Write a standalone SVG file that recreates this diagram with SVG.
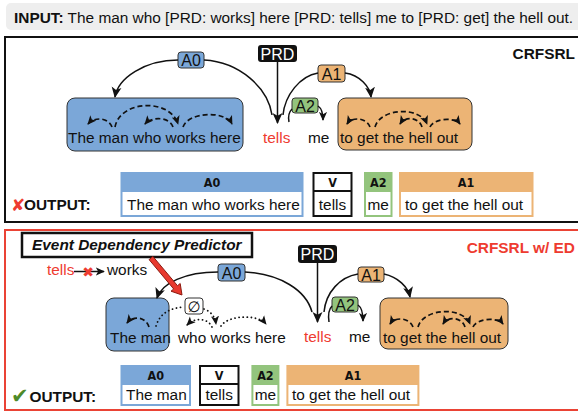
<svg xmlns="http://www.w3.org/2000/svg" width="578" height="412" viewBox="0 0 578 412">
<defs>
<style>
text{font-family:"Liberation Sans",Arial,sans-serif;font-size:15.4px;fill:#111}
.bd{font-weight:bold}
.red{fill:#EE3B30}
.wh{fill:#fff}
.mid{text-anchor:middle}
.end{text-anchor:end}
.hdr{font-family:"Liberation Sans Narrow","DejaVu Sans Condensed","Liberation Sans",sans-serif;font-weight:bold;font-size:12.5px;text-anchor:middle}
.tg{font-size:16px;text-anchor:middle}
.arc{fill:none;stroke:#111;stroke-width:1.5}
.dash{fill:none;stroke:#111;stroke-width:1.7;stroke-dasharray:5 3}
.dot{fill:none;stroke:#111;stroke-width:1.8;stroke-dasharray:0.1 4;stroke-linecap:round}
.blue{fill:#7BA7D8}
.orange{fill:#ECB475}
.green{fill:#93C47D}
.grp{stroke:#333;stroke-width:1}
.tag{stroke:#333;stroke-width:1}
</style>
<marker id="ah" markerUnits="userSpaceOnUse" markerWidth="11" markerHeight="11" viewBox="0 0 10 10" refX="9" refY="5" orient="auto"><path d="M0,0.5 L10,5 L0,9.5 L2.5,5 z" fill="#111"/></marker>
<marker id="sh" markerUnits="userSpaceOnUse" markerWidth="9" markerHeight="9" viewBox="0 0 10 10" refX="9" refY="5" orient="auto"><path d="M0,0.5 L10,5 L0,9.5 L2.5,5 z" fill="#111"/></marker>
</defs>

<!-- input bar -->
<g id="input">
<rect x="6" y="3" width="580" height="27" rx="5" fill="#EEEEEE"/>
<text x="14" y="23"><tspan class="bd">INPUT:</tspan> The man who [PRD: works] here [PRD: tells] me to [PRD: get] the hell out.</text>
</g>

<!-- panel frames -->
<g id="panel1">
<rect x="5" y="37" width="590" height="185" fill="none" stroke="#111" stroke-width="2"/>
<text class="bd end" x="575" y="59">CRFSRL</text>
</g>
<g id="panel2">
<rect x="5" y="230" width="590" height="180" fill="none" stroke="#EA4335" stroke-width="2"/>
<text class="bd end red" x="575" y="253">CRFSRL w/ ED</text>
</g>

<!-- ===== panel 1 nodes ===== -->
<g id="p1-a0group">
<rect class="blue grp" x="67" y="98" width="176" height="53" rx="8"/>
<text x="68" y="143">The man who works here</text>
</g>
<g id="p1-tells"><text class="red" x="263" y="143">tells</text></g>
<g id="p1-me"><text x="308" y="143">me</text></g>
<g id="p1-a1group">
<rect class="orange grp" x="338" y="98" width="134" height="52" rx="8"/>
<text x="340" y="143">to get the hell out</text>
</g>
<g id="p1-prd">
<rect x="258" y="45" width="39" height="17" rx="3" fill="#111"/>
<text class="wh tg" x="277.5" y="59.5">PRD</text>
</g>
<g id="p1-A0">
<rect class="blue tag" x="178" y="52" width="26" height="16" rx="3"/>
<text class="tg" x="191" y="66">A0</text>
</g>
<g id="p1-A1">
<rect class="orange tag" x="318" y="65" width="27" height="17" rx="3"/>
<text class="tg" x="331.5" y="79.5">A1</text>
</g>
<g id="p1-A2">
<rect class="green tag" x="292" y="98" width="26" height="15" rx="3"/>
<text class="tg" x="305" y="111.5">A2</text>
</g>

<!-- ===== panel 2 nodes ===== -->
<g id="edp">
<rect x="22" y="233" width="230" height="24" fill="#fff" stroke="#111" stroke-width="2.5"/>
<text class="bd" x="32" y="250" font-style="italic">Event Dependency Predictor</text>
</g>
<g id="edp-rel">
<text class="red" x="47" y="275">tells</text>
<text x="107" y="275">works</text>
</g>
<g id="p2-a0group">
<rect class="blue grp" x="106" y="298" width="63" height="53" rx="8"/>
<text x="110" y="343">The man</text>
</g>
<g id="p2-rest"><text x="178" y="343">who works here</text></g>
<g id="p2-null">
<rect x="185" y="298" width="18" height="16" rx="3" fill="#fff" stroke="#333" stroke-width="1"/>
<text class="mid" x="194" y="312" style="font-family:'DejaVu Sans',sans-serif;font-size:15px">∅</text>
</g>
<g id="p2-tells"><text class="red" x="304" y="342">tells</text></g>
<g id="p2-me"><text x="349" y="342">me</text></g>
<g id="p2-a1group">
<rect class="orange grp" x="380" y="298" width="128" height="51" rx="8"/>
<text x="383" y="343">to get the hell out</text>
</g>
<g id="p2-prd">
<rect x="298" y="245" width="39" height="18" rx="3" fill="#111"/>
<text class="wh tg" x="317.5" y="260">PRD</text>
</g>
<g id="p2-A0">
<rect class="blue tag" x="218" y="264" width="27" height="17" rx="3"/>
<text class="tg" x="231.5" y="278.5">A0</text>
</g>
<g id="p2-A1">
<rect class="orange tag" x="358" y="267" width="26" height="15" rx="3"/>
<text class="tg" x="371" y="280.5">A1</text>
</g>
<g id="p2-A2">
<rect class="green tag" x="332" y="297" width="26" height="15" rx="3"/>
<text class="tg" x="345" y="310.5">A2</text>
</g>

<!-- ===== connectors ===== -->
<g id="connectors">
<!-- panel 1 -->
<path class="arc" d="M178,60 C145,60 118,78 115,97" marker-end="url(#ah)"/>
<path class="arc" d="M204,60 C240,62 268,88 272,115"/>
<path class="arc" d="M277.5,62 L277.5,123" marker-end="url(#ah)"/>
<path class="arc" d="M318,73 C300,76 285,95 283,115"/>
<path class="arc" d="M345,73 C360,75 370,87 371,97" marker-end="url(#ah)"/>
<path class="arc" d="M292,109 C289,112 288,117 289,122"/>
<path class="arc" d="M318,106 C321,108 323,113 323,120" marker-end="url(#sh)"/>
<path class="dash" d="M112,127 C109,118 95,116 88,124" marker-end="url(#sh)"/>
<path class="dash" d="M115,127 C120,100 170,98 178,124" marker-end="url(#sh)"/>
<path class="dash" d="M173,127 C170,117 152,116 145,124" marker-end="url(#sh)"/>
<path class="dash" d="M183,127 C188,112 225,110 232,124" marker-end="url(#sh)"/>
<path class="dash" d="M370,127 C367,118 352,116 347,124" marker-end="url(#sh)"/>
<path class="dash" d="M375,127 C380,108 420,106 427,124" marker-end="url(#sh)"/>
<path class="dash" d="M422,127 C419,117 405,116 400,124" marker-end="url(#sh)"/>
<path class="dash" d="M430,127 C434,118 455,117 460,124" marker-end="url(#sh)"/>
<!-- panel 2 -->
<path class="arc" d="M74,271.5 L104,271.5" marker-end="url(#sh)"/>
<text class="red mid" x="88" y="277" style="font-family:'DejaVu Sans',sans-serif;font-size:14px;font-weight:bold">✖</text>
<path class="arc" d="M218,272 C185,272 162,283 157,298" marker-end="url(#ah)"/>
<path class="arc" d="M245,272 C280,274 306,290 312,312"/>
<path class="arc" d="M317.5,263 L317.5,322" marker-end="url(#ah)"/>
<path class="arc" d="M358,274 C340,277 326,292 324,312"/>
<path class="arc" d="M384,274 C398,277 408,287 410,297" marker-end="url(#ah)"/>
<path class="arc" d="M332,306 C329,309 328,315 329,322"/>
<path class="arc" d="M358,305 C361,307 363,313 363,321" marker-end="url(#sh)"/>
<path class="dash" d="M149,327 C146,317 133,315 127,323" marker-end="url(#sh)"/>
<path class="dot" d="M156,326 C160,313 170,308 184,307"/>
<path class="dot" d="M204,309 C210,311 215,316 216,324" marker-end="url(#sh)"/>
<path class="dot" d="M212,327 C208,318 195,317 187,325" marker-end="url(#sh)"/>
<path class="dot" d="M221,326 C228,315 258,314 266,324" marker-end="url(#sh)"/>
<path class="dash" d="M370,127 C367,118 352,116 347,124" marker-end="url(#sh)" transform="translate(43,200)"/>
<path class="dash" d="M375,127 C380,108 420,106 427,124" marker-end="url(#sh)" transform="translate(43,200)"/>
<path class="dash" d="M422,127 C419,117 405,116 400,124" marker-end="url(#sh)" transform="translate(43,200)"/>
<path class="dash" d="M430,127 C434,118 455,117 460,124" marker-end="url(#sh)" transform="translate(43,200)"/>
<!-- red EDP arrow -->
<polygon points="149.1,259.6 173.7,289 171,291.2 182,295 180.2,283.5 177.5,285.7 152.9,256.4" fill="#E8392E" stroke="#8B1A10" stroke-width="1" stroke-linejoin="miter"/>
</g>

<!-- ===== outputs ===== -->
<g id="out1">
<text x="11" y="211" class="red" style="font-family:'DejaVu Sans',sans-serif;font-size:17px;font-weight:bold">✘</text>
<text class="bd" x="24" y="210">OUTPUT:</text>
</g>
<g id="out1-A0">
<rect class="blue" x="120.5" y="172" width="183" height="45"/>
<rect fill="#fff" x="122.5" y="192" width="179" height="23"/>
<text class="hdr" x="212" y="187">A0</text>
<text x="127" y="209.5">The man who works here</text>
</g>
<g id="out1-V">
<rect fill="#111" x="312.5" y="172" width="40" height="45"/>
<rect fill="#fff" x="314.5" y="174" width="36" height="16"/>
<rect fill="#fff" x="314.5" y="192" width="36" height="23"/>
<text class="hdr" x="332.5" y="187">V</text>
<text class="mid" x="332.5" y="209.5">tells</text>
</g>
<g id="out1-A2">
<rect class="green" x="364" y="172" width="28.5" height="45"/>
<rect fill="#fff" x="366" y="192" width="24.5" height="23"/>
<text class="hdr" x="378.2" y="187">A2</text>
<text class="mid" x="378.2" y="209.5">me</text>
</g>
<g id="out1-A1">
<rect class="orange" x="399" y="172" width="134.5" height="45"/>
<rect fill="#fff" x="401" y="192" width="130.5" height="23"/>
<text class="hdr" x="466" y="187">A1</text>
<text x="405" y="209.5">to get the hell out</text>
</g>

<g id="out2">
<text x="11" y="403" style="font-family:'DejaVu Sans',sans-serif;font-size:21px;fill:#4E8A2A">✔</text>
<text class="bd" x="29.5" y="402">OUTPUT:</text>
</g>
<g id="out2-A0">
<rect class="blue" x="120.5" y="365" width="70.5" height="41"/>
<rect fill="#fff" x="122.5" y="385" width="66.5" height="19"/>
<text class="hdr" x="155.7" y="380">A0</text>
<text x="126" y="400">The man</text>
</g>
<g id="out2-V">
<rect fill="#111" x="199" y="365" width="40.5" height="41"/>
<rect fill="#fff" x="201" y="367" width="36.5" height="16"/>
<rect fill="#fff" x="201" y="385" width="36.5" height="19"/>
<text class="hdr" x="219.2" y="380">V</text>
<text class="mid" x="219.2" y="400">tells</text>
</g>
<g id="out2-A2">
<rect class="green" x="251.4" y="365" width="28" height="41"/>
<rect fill="#fff" x="253.4" y="385" width="24" height="19"/>
<text class="hdr" x="265.4" y="380">A2</text>
<text class="mid" x="265.4" y="400">me</text>
</g>
<g id="out2-A1">
<rect class="orange" x="286.4" y="365" width="133" height="41"/>
<rect fill="#fff" x="288.4" y="385" width="129" height="19"/>
<text class="hdr" x="353" y="380">A1</text>
<text x="292" y="400">to get the hell out</text>
</g>
</svg>
